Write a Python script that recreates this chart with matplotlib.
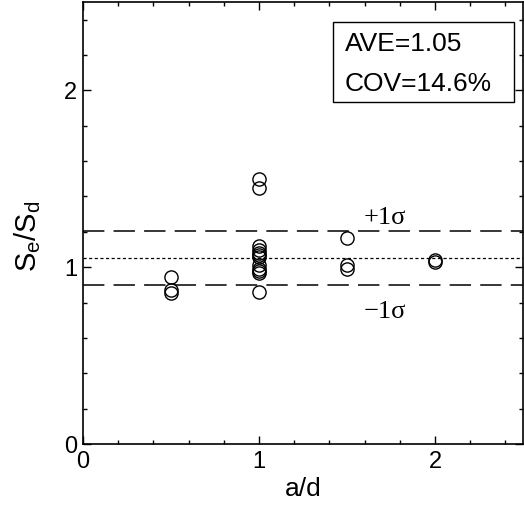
import matplotlib
matplotlib.use("Agg")
import matplotlib.pyplot as plt
from matplotlib.ticker import MultipleLocator
from matplotlib.patches import Rectangle

# test data
ad = [0.5, 0.5, 0.5,
      1, 1, 1, 1, 1, 1, 1, 1, 1, 1, 1, 1,
      1.5, 1.5, 1.5,
      2, 2]
ratio = [0.945, 0.87, 0.855,
         1.50, 1.45, 1.12, 1.10, 1.08, 1.07, 1.06, 1.01, 0.99, 0.98, 0.97, 0.86,
         1.165, 1.015, 0.99,
         1.04, 1.03]

ave = 1.05
cov = 0.146

plt.rcParams['font.family'] = ['Liberation Sans', 'DejaVu Sans']

fig = plt.figure(figsize=(5.24, 5.11), dpi=100)
ax = fig.add_axes([83 / 524, 67 / 511, 440 / 524, 442 / 511])

ax.axhline(ave * (1 + cov), color='black', lw=1.1, dashes=(14, 6))
ax.axhline(ave, color='black', lw=0.9, dashes=(2.5, 2))
ax.axhline(ave * (1 - cov), color='black', lw=1.1, dashes=(14, 6))

ax.plot(ad, ratio, linestyle='none', marker='o', markersize=9.5,
        markerfacecolor='none', markeredgecolor='black', markeredgewidth=1.0)

ax.text(1.716, 1.277, '+1\u03c3', family='Liberation Serif',
        fontsize=19, ha='center', va='center')
ax.text(1.716, 0.745, '\u22121\u03c3', family='Liberation Serif',
        fontsize=19, ha='center', va='center')

# statistics box
ax.add_patch(Rectangle((0.568, 0.774), 0.411, 0.181, transform=ax.transAxes,
                       facecolor='white', edgecolor='black', lw=1.0, zorder=5))
ax.text(0.595, 0.905, 'AVE=%.2f' % ave, transform=ax.transAxes,
        fontsize=19, ha='left', va='center', zorder=6)
ax.text(0.595, 0.8145, 'COV=%.1f%%' % (cov * 100), transform=ax.transAxes,
        fontsize=19, ha='left', va='center', zorder=6)

ax.set_xlim(0, 2.5)
ax.set_ylim(0, 2.5)
ax.xaxis.set_major_locator(MultipleLocator(1))
ax.yaxis.set_major_locator(MultipleLocator(1))
ax.xaxis.set_minor_locator(MultipleLocator(0.2))
ax.yaxis.set_minor_locator(MultipleLocator(0.2))
ax.tick_params(which='both', direction='in', top=True, right=True,
               labelsize=17, width=1)
ax.tick_params(which='major', length=6)
ax.tick_params(which='minor', length=3)
ax.tick_params(axis='x', pad=5)
ax.tick_params(axis='y', pad=4)
for s in ax.spines.values():
    s.set_linewidth(1.2)

ax.set_xlabel('a/d', fontsize=19, labelpad=3)
ax.set_ylabel('S$_\\mathregular{e}$/S$_\\mathregular{d}$', fontsize=21)
ax.yaxis.set_label_coords(-0.09, 0.47)

fig.savefig('out.png', dpi=100)
